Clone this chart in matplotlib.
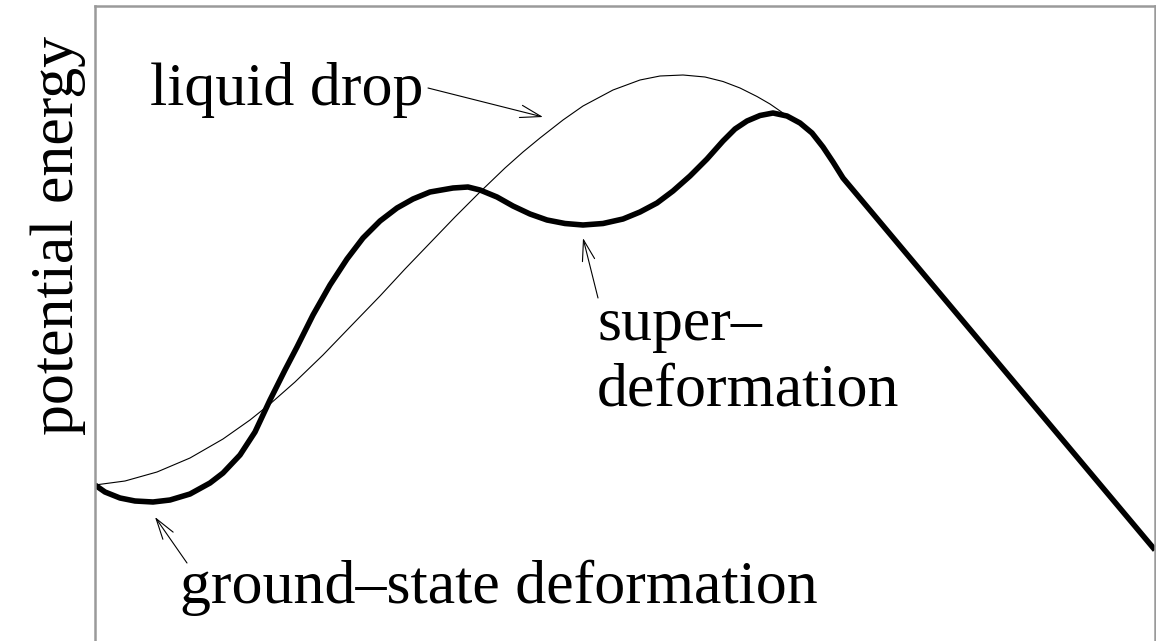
import matplotlib.pyplot as plt

plt.rcParams['font.family'] = ['Liberation Serif', 'DejaVu Serif']

# deformation (arbitrary units) and potential energy (arbitrary units)
shell_x = [0, 0.10, 0.25, 0.40, 0.58, 0.75, 0.95, 1.15, 1.28, 1.45, 1.60, 1.75, 1.90, 2.02,
           2.18, 2.35, 2.52, 2.68, 2.85, 3.02, 3.18, 3.35, 3.58, 3.73, 3.85, 4.02, 4.18, 4.35,
           4.52, 4.70, 4.88, 5.08, 5.28, 5.45, 5.62, 5.78, 5.95, 6.12, 6.28, 6.40, 6.52, 6.65,
           6.78, 6.92, 7.05, 7.17, 7.28, 7.38, 7.48, 10.60]
shell_y = [1.56, 1.49, 1.43, 1.40, 1.39, 1.41, 1.47, 1.58, 1.68, 1.86, 2.09, 2.41, 2.71, 2.94,
           3.26, 3.56, 3.82, 4.03, 4.20, 4.33, 4.42, 4.49, 4.53, 4.54, 4.51, 4.44, 4.35, 4.27,
           4.21, 4.175, 4.16, 4.175, 4.22, 4.29, 4.38, 4.50, 4.65, 4.82, 5.00, 5.12, 5.20, 5.255,
           5.28, 5.25, 5.18, 5.08, 4.94, 4.79, 4.63, 0.91]

ld_x = [0, 0.30, 0.62, 0.95, 1.28, 1.55, 1.75, 2.00, 2.28, 2.55, 2.85, 3.10, 3.35, 3.60,
        3.85, 4.10, 4.28, 4.45, 4.68, 4.88, 5.18, 5.45, 5.65, 5.88, 6.10, 6.28, 6.45, 6.62,
        6.75, 6.88]
ld_y = [1.56, 1.60, 1.69, 1.83, 2.02, 2.21, 2.37, 2.59, 2.86, 3.14, 3.45, 3.72, 3.98, 4.24,
        4.49, 4.73, 4.89, 5.03, 5.21, 5.35, 5.51, 5.61, 5.65, 5.66, 5.64, 5.595, 5.53, 5.445,
        5.37, 5.28]

fig = plt.figure(figsize=(11.56, 6.41), dpi=100)
ax = fig.add_axes([95/1156, 0, 1060/1156, 635/641])

ax.plot(ld_x, ld_y, color='black', lw=0.8)
ax.plot(shell_x, shell_y, color='black', lw=4, solid_capstyle='butt', solid_joinstyle='round')

ax.set_xlim(0, 10.6)
ax.set_ylim(0, 6.35)
ax.set_xticks([])
ax.set_yticks([])
for s in ['left', 'top', 'right']:
    ax.spines[s].set_color('#9a9a9a')
    ax.spines[s].set_linewidth(1.8)
ax.spines['bottom'].set_visible(False)

fs = 44.6
arr = dict(arrowstyle='->, head_length=0.6, head_width=0.18', color='black', lw=0.8,
           mutation_scale=25, shrinkA=0, shrinkB=0)

ax.text(0.55, 5.36, 'liquid drop', fontsize=fs, ha='left', va='baseline')
ax.annotate('', xy=(4.48, 5.24), xytext=(3.33, 5.53), arrowprops=arr)

ax.text(5.02, 3.01, 'super\u2013', fontsize=fs, ha='left', va='baseline')
ax.text(5.02, 2.36, 'deformation', fontsize=fs, ha='left', va='baseline')
ax.annotate('', xy=(4.88, 4.03), xytext=(5.03, 3.43), arrowprops=arr)

ax.text(0.85, 0.38, 'ground\u2013state deformation', fontsize=fs, ha='left', va='baseline')
ax.annotate('', xy=(0.60, 1.24), xytext=(0.92, 0.78), arrowprops=arr)

fig.text(58/1156, 1 - 235/641, 'potential energy', fontsize=fs, rotation=90,
         ha='center', va='center')

fig.savefig('out.png', dpi=100)
